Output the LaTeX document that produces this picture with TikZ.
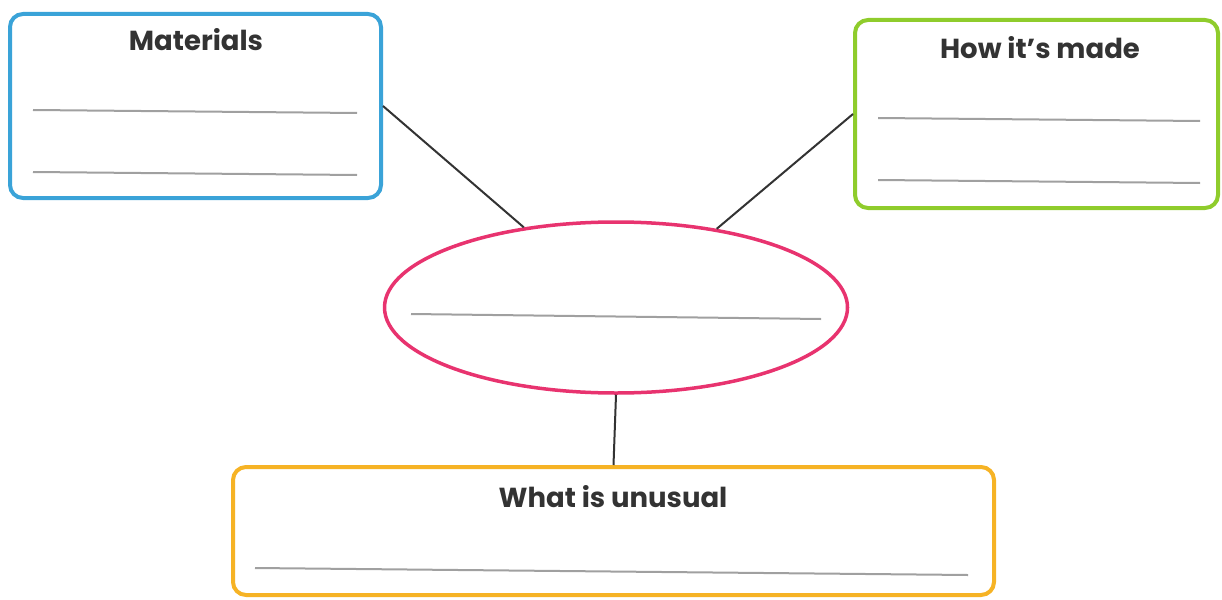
\documentclass[tikz,border=0pt]{standalone}
\usepackage{fontspec}
\setmainfont{Poppins}
\usetikzlibrary{shapes.geometric}
\definecolor{cblue}{HTML}{3AA3D8}
\definecolor{cgreen}{HTML}{8FCC2C}
\definecolor{cpink}{HTML}{E8336F}
\definecolor{corange}{HTML}{F6B325}
\definecolor{ctext}{HTML}{333333}
\definecolor{cline}{HTML}{A0A0A0}
\begin{document}
\begin{tikzpicture}[x=1pt,y=-1pt,
  box/.style={draw, line width=4pt, rounded corners=13pt, fill=white, inner sep=0pt},
  title/.style={text=ctext, font=\bfseries\fontsize{27.5}{32}\selectfont, inner sep=0pt},
  wline/.style={draw=cline, line width=2pt},
  conn/.style={draw=ctext, line width=2pt}]
\useasboundingbox (0,0) rectangle (1222,599);
% boxes
\node[box, draw=cblue, minimum width=371pt, minimum height=184pt] (mat) at (195.5,106) {};
\node[box, draw=cgreen, minimum width=363pt, minimum height=188pt] (how) at (1036.5,114) {};
\node[box, draw=corange, minimum width=761pt, minimum height=128pt] (unu) at (613.5,531) {};
\node[ellipse, draw=cpink, line width=3.5pt, fill=white, inner sep=0pt,
  minimum width=463pt, minimum height=171pt] (ell) at (616,307.5) {};
% titles
\node[title] (tmat) at (196,40) {Materials};
\node[title] (thow) at (1040,48) {How it’s made};
\node[title] (tunu) at (613,497) {What is unusual};
% writing lines
\coordinate (m1a) at (33,110); \coordinate (m1b) at (357,113);
\coordinate (m2a) at (33,172); \coordinate (m2b) at (357,175);
\coordinate (h1a) at (878,118); \coordinate (h1b) at (1200,121);
\coordinate (h2a) at (878,180); \coordinate (h2b) at (1200,183);
\coordinate (e1a) at (411,314); \coordinate (e1b) at (821,319);
\coordinate (u1a) at (255,568); \coordinate (u1b) at (968,575);
\draw[wline] (m1a) -- (m1b);
\draw[wline] (m2a) -- (m2b);
\draw[wline] (h1a) -- (h1b);
\draw[wline] (h2a) -- (h2b);
\draw[wline] (e1a) -- (e1b);
\draw[wline] (u1a) -- (u1b);
% connectors
\draw[conn] (mat.east) -- (ell.139.5);
\draw[conn] (how.west) -- (ell.38.8);
\draw[conn] (ell.south) -- (unu.north);
\end{tikzpicture}
\end{document}
